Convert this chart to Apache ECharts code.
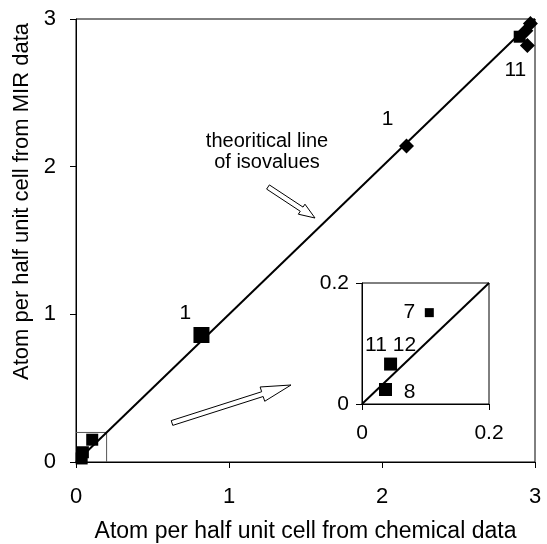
<!DOCTYPE html>
<html>
<head>
<meta charset="utf-8">
<script src="https://cdn.jsdelivr.net/npm/echarts@6/dist/echarts.min.js"></script>
<style>
  html, body { margin: 0; padding: 0; background: #fff; }
  #chart { width: 547px; height: 544px; }
</style>
</head>
<body>
<div id="chart"></div>
<script>
// main plot values (atom per half unit cell)
const diamondX = [2.16, 2.97, 2.94, 2.95];
const diamondY = [2.14, 2.97, 2.92, 2.82];
const diamondLabels = ['1', '', '', '11'];
const squareX = [0.82, 2.90];
const squareY = [0.86, 2.88];
const squareLabels = ['1', ''];
// low values, also shown in the inset
const lowX = [0.037, 0.045, 0.106];
const lowY = [0.024, 0.066, 0.151];
const lowLabels = ['8', '11 12', '7'];
const isoLine = [0, 3];
const insetLine = [0, 0.2];
const mainTicks = [0, 1, 2, 3];
const insetTicks = [0, 0.2];

const FONT = 'Liberation Sans';

// label offsets (style, not data)
const diamondOffsets = [[-19, -27], null, null, [-12, 25]];
const squareOffsets = [[-16, -22], null];
const insetOffsets = [[24, 3], [0, -19], [-20, 0]];
const insetSizes = [13, 13, 9];
const mainSquareSizes = [16, 12];

function pointData(xs, ys, labels, offsets, size) {
  return xs.map(function (x, i) {
    let item = { value: [x, ys[i]] };
    if (size) item.symbolSize = size[i];
    if (labels[i]) {
      item.label = {
        show: true,
        position: 'inside',
        formatter: labels[i],
        offset: offsets[i],
        color: '#000',
        fontSize: 21,
        fontFamily: FONT
      };
    }
    return item;
  });
}

// hollow arrow as a polygon from tail to tip
function arrow(tail, tip, shaftW, headW, headL) {
  let dx = tip[0] - tail[0], dy = tip[1] - tail[1];
  let len = Math.sqrt(dx * dx + dy * dy);
  let ux = dx / len, uy = dy / len;
  let nx = -uy, ny = ux;
  let bx = tip[0] - ux * headL, by = tip[1] - uy * headL;
  return {
    type: 'polygon',
    shape: {
      points: [
        [tail[0] + nx * shaftW / 2, tail[1] + ny * shaftW / 2],
        [bx + nx * shaftW / 2, by + ny * shaftW / 2],
        [bx + nx * headW / 2, by + ny * headW / 2],
        tip,
        [bx - nx * headW / 2, by - ny * headW / 2],
        [bx - nx * shaftW / 2, by - ny * shaftW / 2],
        [tail[0] - nx * shaftW / 2, tail[1] - ny * shaftW / 2]
      ]
    },
    style: { fill: '#fff', stroke: '#000', lineWidth: 1 },
    z: 100
  };
}

let chart = echarts.init(document.getElementById('chart'));

function axisBase(min, max, interval, margin, fontSize) {
  return {
    type: 'value',
    min: min,
    max: max,
    interval: interval,
    axisLine: { show: true, lineStyle: { color: '#000', width: 1 } },
    axisTick: { show: true, length: 6, lineStyle: { color: '#000' } },
    splitLine: { show: false },
    axisLabel: {
      color: '#000',
      fontSize: fontSize,
      fontFamily: FONT,
      margin: margin,
      showMinLabel: true,
      showMaxLabel: true
    }
  };
}

let xMain = axisBase(mainTicks[0], mainTicks[mainTicks.length - 1], 1, 24, 22);
xMain.gridIndex = 0;
xMain.name = 'Atom per half unit cell from chemical data';
xMain.nameLocation = 'middle';
xMain.nameGap = 58;
xMain.nameTextStyle = { color: '#000', fontSize: 23, fontFamily: FONT };

let yMain = axisBase(mainTicks[0], mainTicks[mainTicks.length - 1], 1, 20, 22);
yMain.gridIndex = 0;
yMain.name = 'Atom per half unit cell from MIR data';
yMain.nameLocation = 'middle';
yMain.nameGap = 40;
yMain.nameTextStyle = { color: '#000', fontSize: 22, fontFamily: FONT, padding: [0, 0, 0, 78] };

let xInset = axisBase(insetTicks[0], insetTicks[1], 0.2, 19, 21);
xInset.gridIndex = 1;
let yInset = axisBase(insetTicks[0], insetTicks[1], 0.2, 13, 21);
yInset.gridIndex = 1;

const markStyle = { color: '#000', opacity: 1 };

chart.setOption({
  animation: false,
  backgroundColor: '#fff',
  grid: [
    { left: 76, right: 12, top: 19, bottom: 82, show: true, borderColor: '#000', borderWidth: 1, outerBoundsMode: 'none', containLabel: false },
    { left: 362, top: 283, width: 127, height: 121, show: true, borderColor: '#000', borderWidth: 1, outerBoundsMode: 'none', containLabel: false }
  ],
  xAxis: [xMain, xInset],
  yAxis: [yMain, yInset],
  graphic: [
    {
      type: 'text',
      x: 267,
      y: 131,
      style: {
        text: 'theoritical line\nof isovalues',
        fontSize: 20,
        fontFamily: FONT,
        lineHeight: 21,
        align: 'center',
        verticalAlign: 'top',
        fill: '#000'
      },
      z: 100
    },
    arrow([268, 187], [315, 218], 5, 12, 16),
    arrow([172, 423], [291, 385], 5, 15, 30)
  ],
  series: [
    {
      type: 'line',
      xAxisIndex: 0, yAxisIndex: 0,
      data: [[isoLine[0], isoLine[0]], [isoLine[1], isoLine[1]]],
      symbol: 'none',
      lineStyle: { color: '#000', width: 2 },
      z: 2
    },
    {
      // zoom frame of the inset
      type: 'line',
      xAxisIndex: 0, yAxisIndex: 0,
      data: [[insetLine[0], insetLine[1]], [insetLine[1], insetLine[1]], [insetLine[1], insetLine[0]]],
      symbol: 'none',
      lineStyle: { color: '#555', width: 1 },
      z: 1
    },
    {
      type: 'scatter',
      xAxisIndex: 0, yAxisIndex: 0,
      symbol: 'diamond',
      symbolSize: 15,
      itemStyle: markStyle,
      data: pointData(diamondX, diamondY, diamondLabels, diamondOffsets),
      z: 3
    },
    {
      type: 'scatter',
      xAxisIndex: 0, yAxisIndex: 0,
      symbol: 'rect',
      itemStyle: markStyle,
      data: pointData(squareX, squareY, squareLabels, squareOffsets, mainSquareSizes),
      z: 3
    },
    {
      type: 'scatter',
      xAxisIndex: 0, yAxisIndex: 0,
      symbol: 'rect',
      symbolSize: 12,
      itemStyle: markStyle,
      data: lowX.map(function (x, i) { return [x, lowY[i]]; }),
      z: 3
    },
    {
      type: 'line',
      xAxisIndex: 1, yAxisIndex: 1,
      data: [[insetLine[0], insetLine[0]], [insetLine[1], insetLine[1]]],
      symbol: 'none',
      lineStyle: { color: '#000', width: 2 },
      z: 2
    },
    {
      type: 'scatter',
      xAxisIndex: 1, yAxisIndex: 1,
      symbol: 'rect',
      itemStyle: markStyle,
      data: pointData(lowX, lowY, lowLabels, insetOffsets, insetSizes),
      z: 3
    }
  ]
});
</script>
</body>
</html>
